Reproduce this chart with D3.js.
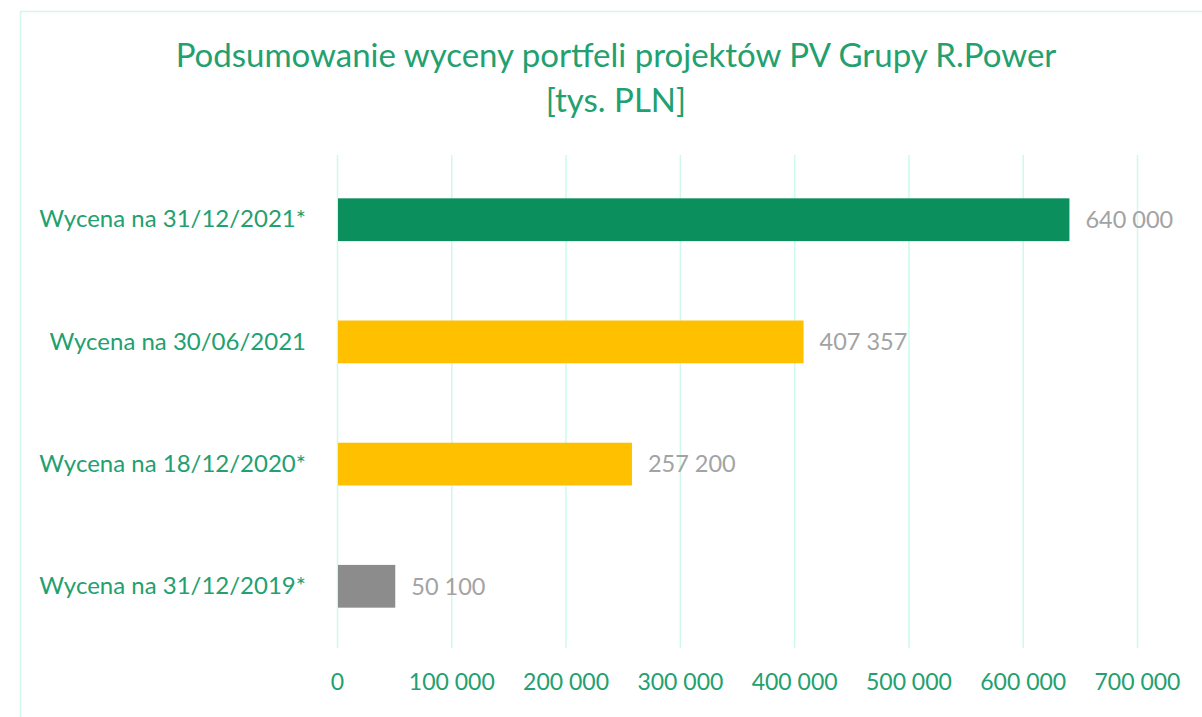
<!DOCTYPE html>
<html>
<head>
<meta charset="utf-8">
<script src="https://cdn.jsdelivr.net/npm/d3@7"></script>
<style>
  body { margin: 0; background: #fff; }
  svg { display: block; font-family: Lato, "Open Sans", sans-serif; }
</style>
</head>
<body>
<div id="chart"></div>
<script>
// data
const categories = [
  "Wycena na 31/12/2021*",
  "Wycena na 30/06/2021",
  "Wycena na 18/12/2020*",
  "Wycena na 31/12/2019*"
];
const values = [640000, 407357, 257200, 50100];
const barColors = ["#0b8f5c", "#ffc000", "#ffc000", "#8c8c8c"];
const tickValues = [0, 100000, 200000, 300000, 400000, 500000, 600000, 700000];
const titleLines = ["Podsumowanie wyceny portfeli projektów PV Grupy R.Power", "[tys. PLN]"];

const width = 1202, height = 717;
const margin = { top: 158, right: 65, bottom: 69, left: 337 };

const svg = d3.select("#chart").append("svg")
  .attr("width", width)
  .attr("height", height);

// outer frame (only top and left visible in the picture)
svg.append("path")
  .attr("d", `M20.5,${height} V11.5 H${width}`)
  .attr("fill", "none")
  .attr("stroke", "#d2f8ea")
  .attr("stroke-width", 1.5);

const fmt = (v) => d3.format(",")(v).replace(/,/g, " ");

const x = d3.scaleLinear()
  .domain([0, 700000])
  .range([margin.left, width - margin.right]);

const y = d3.scaleBand()
  .domain(categories)
  .range([margin.top, height - margin.bottom])
  .paddingInner(0.65)
  .paddingOuter(0.33);

// gridlines
svg.append("g")
  .selectAll("line")
  .data(tickValues)
  .join("line")
  .attr("x1", (d) => x(d) + 0.5)
  .attr("x2", (d) => x(d) + 0.5)
  .attr("y1", margin.top - 3)
  .attr("y2", height - margin.bottom)
  .attr("stroke", "#cdfaec")
  .attr("stroke-width", 1.5);

// x axis labels
const xAxis = svg.append("g")
  .attr("transform", `translate(0, ${height - margin.bottom + 23})`)
  .call(d3.axisBottom(x).tickValues(tickValues).tickFormat(fmt).tickSize(0));
xAxis.select(".domain").remove();
xAxis.selectAll("text")
  .attr("fill", "#22a06f")
  .attr("font-size", "23px")
  .attr("font-family", "Lato, sans-serif");

// y axis labels
const yAxis = svg.append("g")
  .attr("transform", `translate(${margin.left - 28}, 0)`)
  .call(d3.axisLeft(y).tickSize(0));
yAxis.select(".domain").remove();
yAxis.selectAll("text")
  .attr("fill", "#22a06f")
  .attr("font-size", "24px")
  .attr("font-family", "Lato, sans-serif");

// bars
svg.append("g")
  .selectAll("rect")
  .data(values)
  .join("rect")
  .attr("x", x(0) + 1)
  .attr("y", (d, i) => y(categories[i]))
  .attr("width", (d) => x(d) - x(0))
  .attr("height", y.bandwidth())
  .attr("fill", (d, i) => barColors[i]);

// value labels
svg.append("g")
  .selectAll("text")
  .data(values)
  .join("text")
  .attr("x", (d) => x(d) + 17)
  .attr("y", (d, i) => y(categories[i]) + y.bandwidth() / 2)
  .attr("dy", "0.35em")
  .attr("fill", "#a3a3a3")
  .attr("font-size", "23.5px")
  .text((d) => fmt(d));

// title
svg.append("g")
  .selectAll("text")
  .data(titleLines)
  .join("text")
  .attr("x", 616)
  .attr("y", (d, i) => 67 + i * 45)
  .attr("text-anchor", "middle")
  .attr("fill", "#22a06f")
  .attr("font-size", "33px")
  .text((d) => d);
</script>
</body>
</html>
